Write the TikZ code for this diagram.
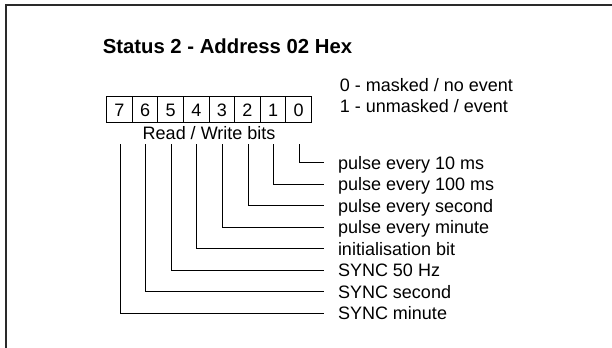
\documentclass[tikz,border=0pt]{standalone}
\usepackage{fontspec}
\setmainfont{Liberation Sans}
\usepackage{tikz}
\usetikzlibrary{positioning,calc}
\definecolor{cOut}{HTML}{000000}
\definecolor{cFrame}{HTML}{2A2A2A}
\tikzset{
  reg/cell/.style ={draw=cOut, line width=0.5pt, minimum width=12.8pt,
                    minimum height=13pt, inner sep=0pt,
                    font=\fontsize{9}{10}\selectfont,
                    text height=6.44pt, text depth=0pt},
  reg/lbl/.style  ={anchor=west, inner xsep=6.8pt, inner ysep=0pt,
                    font=\fontsize{9}{10}\selectfont,
                    text height=6.44pt, text depth=0pt},
  reg/title/.style={anchor=base west, inner sep=0pt,
                    font=\fontsize{10.15}{12}\selectfont\bfseries},
  reg/note/.style ={anchor=base west, inner sep=0pt,
                    font=\fontsize{9}{10}\selectfont},
  reg/wire/.style ={draw=cOut, line width=0.5pt}
}
\begin{document}
\begin{tikzpicture}[x=0.5pt, y=-0.5pt]
    % units are pixels of the 612 x 348 sheet, y grows downwards
    \def\cw{25.6}    % width of one bit cell
    \def\xl{106.7}   % left edge of bit 7
    \def\yl{162.7}   % height of the first label line
    \def\dy{21.5}    % label line spacing
    \useasboundingbox (0,0) rectangle (612,348);
    % frame (only left and top edges show)
    \draw[cFrame, line width=0.8pt] (6,348) -- (6,5.3) -- (612,5.3);
    % title and legend
    \node[reg/title] (title) at (102.4,53.3) {Status 2 - Address 02 Hex};
    \node[reg/note] (leg0) at (339.5,91) {0 - masked / no event};
    \node[reg/note] (leg1) at (339.5,112.7) {1 - unmasked / event};
    % the register, bit 7 on the left
    \foreach \i in {0,...,7} {
      \node[reg/cell] (b\i) at ({\xl + \cw*(7-\i) + \cw/2}, 109.7) {\i};
    }
    \node[reg/note, anchor=center, text height=6.44pt, text depth=0pt] (rw)
         at ($(b7)!0.5!(b0) + (0,23.3)$) {Read / Write bits};
    % one line per bit down to its meaning
    \foreach \i/\txt in {0/pulse every 10 ms, 1/pulse every 100 ms,
                         2/pulse every second, 3/pulse every minute,
                         4/initialisation bit, 5/SYNC 50 Hz,
                         6/SYNC second, 7/SYNC minute} {
      \node[reg/lbl] (l\i) at (324, \yl + \dy*\i) {\txt};
      \coordinate (t\i) at ({\xl + \cw*(7-\i) + \cw/2 + 0.5}, 144);
      \draw[reg/wire] (t\i) |- (l\i.west);
    }
\end{tikzpicture}
\end{document}
